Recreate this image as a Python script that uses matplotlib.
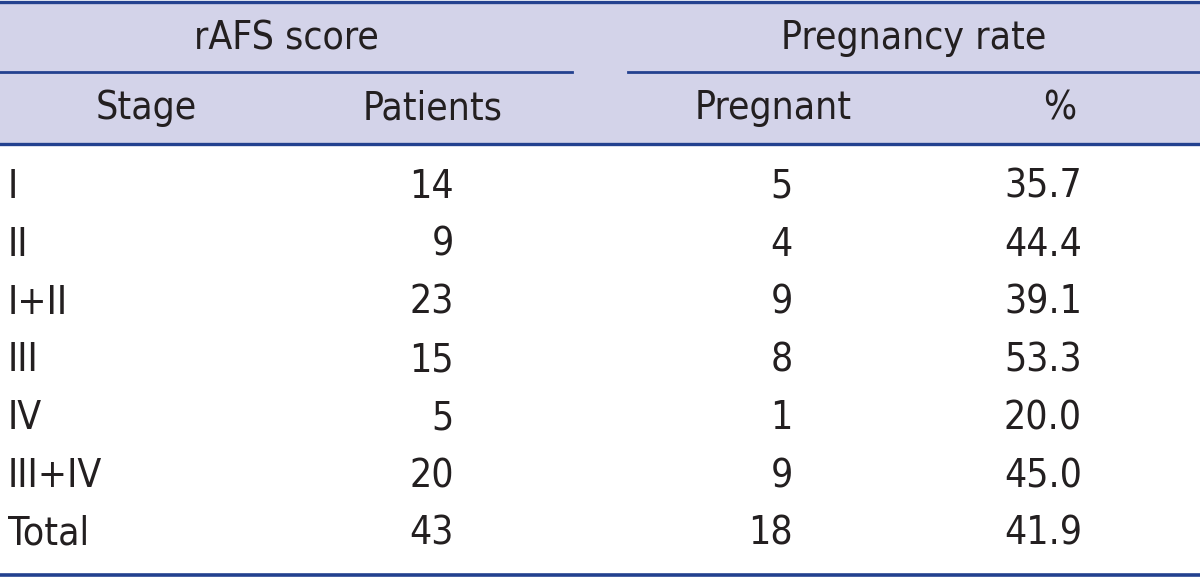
import matplotlib
matplotlib.use("Agg")
import matplotlib.pyplot as plt
from matplotlib import font_manager

# table data
stages = ["I", "II", "I+II", "III", "IV", "III+IV", "Total"]
patients = [14, 9, 23, 15, 5, 20, 43]
pregnant = [5, 4, 9, 8, 1, 9, 18]
percent = [35.7, 44.4, 39.1, 53.3, 20.0, 45.0, 41.9]
group_headers = ["rAFS score", "Pregnancy rate"]
col_headers = ["Stage", "Patients", "Pregnant", "%"]

# look for a narrow sans face, the original uses a condensed sans
prefer = ["Liberation Sans Narrow", "DejaVu Sans", "Noto Sans", "Open Sans", "Roboto"]
narrow = None
for name in prefer:
    for f in font_manager.fontManager.ttflist:
        if f.name != name or f.style != "normal":
            continue
        if f.weight not in (400, "normal", "regular"):
            continue
        if name == "Liberation Sans Narrow" or "ondensed" in str(f.stretch) or \
                "ondensed" in f.fname:
            narrow = f
            break
    if narrow is not None:
        break
if narrow is not None:
    fp = font_manager.FontProperties(fname=narrow.fname)
else:
    fp = font_manager.FontProperties(family="DejaVu Sans")

W, H = 1200, 577
fig = plt.figure(figsize=(W / 100, H / 100), dpi=100)
ax = fig.add_axes([0, 0, 1, 1])
ax.set_xlim(0, W)
ax.set_ylim(H, 0)
ax.axis("off")

line_c = "#23418f"
head_bg = "#d3d3e9"
txt_c = "#231f20"
fs = 28
fp.set_size(fs)

# header background
ax.fill_between([0, W], 1, 144, color=head_bg, lw=0)
ax.plot([0, W], [1.5, 1.5], color=line_c, lw=2.4)
ax.plot([0, 572], [72, 72], color=line_c, lw=2.0)
ax.plot([628, W], [72, 72], color=line_c, lw=2.0)
ax.plot([0, W], [144, 144], color=line_c, lw=2.4)
ax.plot([0, W], [575, 575], color=line_c, lw=2.6)

# header text
for label, x in zip(group_headers, [286, 914]):
    ax.text(x, 38, label, ha="center", va="center", fontproperties=fp, color=txt_c)
for label, x in zip(col_headers, [146, 433, 773, 1060]):
    ax.text(x, 108, label, ha="center", va="center", fontproperties=fp, color=txt_c)

# body rows
y0, dy = 187, 57.8
for i in range(len(stages)):
    y = y0 + i * dy
    ax.text(8, y, stages[i], ha="left", va="center", fontproperties=fp, color=txt_c)
    ax.text(454, y, str(patients[i]), ha="right", va="center", fontproperties=fp, color=txt_c)
    ax.text(793, y, str(pregnant[i]), ha="right", va="center", fontproperties=fp, color=txt_c)
    ax.text(1082, y, "%.1f" % percent[i], ha="right", va="center", fontproperties=fp, color=txt_c)

fig.savefig("out.png", dpi=100)
